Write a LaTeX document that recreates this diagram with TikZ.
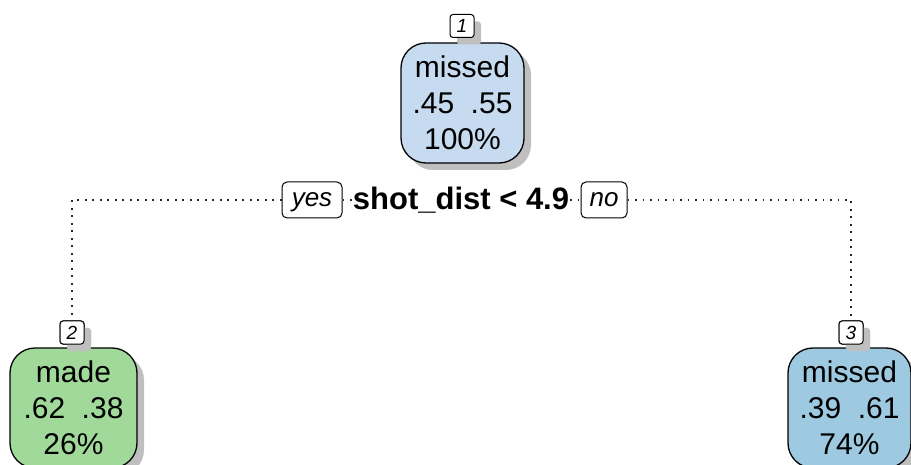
\documentclass[tikz,border=0pt]{standalone}
\usepackage{fontspec}
\setmainfont{Liberation Sans}
\usetikzlibrary{shadows}
\definecolor{c1}{HTML}{C6DBEF}
\definecolor{c2}{HTML}{A1D99B}
\definecolor{c3}{HTML}{9ECAE1}
\tikzset{
  shad/.style={drop shadow={shadow xshift=7pt,shadow yshift=-7pt,fill=black!25,opacity=1}},
  leaf/.style={draw=black,line width=1.3pt,rounded corners=25pt,shad,align=center,
    inner sep=0pt,font=\fontsize{30}{36}\selectfont},
  numbox/.style={draw=black,line width=1pt,rounded corners=3pt,fill=white,shad,
    inner sep=0pt,minimum width=24pt,minimum height=23pt,text height=13.5pt,text depth=0pt,
    font=\fontsize{19}{19}\selectfont\itshape},
  ynbox/.style={draw=black,line width=1pt,rounded corners=5pt,fill=white,
    inner sep=0pt,minimum height=36pt,text height=13.5pt,text depth=0pt,font=\fontsize{26}{26}\selectfont\itshape},
  dotline/.style={line width=1.6pt,dash pattern=on 1.6pt off 5.9pt,black!85}
}
\begin{document}
\begin{tikzpicture}[x=1pt,y=-1pt]
\useasboundingbox (0,0) rectangle (911,465);
% connectors first
\node[ynbox,minimum width=60pt] (yes) at (312,200) {yes};
\node[ynbox,minimum width=46pt] (no) at (604,200) {no};
\node[font=\fontsize{31}{31}\selectfont\bfseries,fill=white,inner sep=1pt] (split) at (461,200) {shot\_dist < 4.9};
\node[numbox] (lab2) at (72,332.5) {2};
\node[numbox] (lab3) at (851,332.5) {3};
\draw[dotline] (split.west) -- (yes.east);
\draw[dotline] (split.east) -- (no.west);
\draw[dotline] (yes.west) -| (lab2.north);
\draw[dotline] (no.east) -| (lab3.north);
% nodes
\node[leaf,fill=c1,minimum width=123pt,minimum height=120pt] (n1) at (462.5,103) {missed\\.45\hspace{0.55em}.55\\100\%};
\node[numbox] (lab1) at (462,26) {1};
\node[leaf,fill=c2,minimum width=127pt,minimum height=120pt] (n2) at (73.5,408) {made\\.62\hspace{0.55em}.38\\26\%};
\node[leaf,fill=c3,minimum width=123pt,minimum height=120pt] (n3) at (849.5,408) {missed\\.39\hspace{0.55em}.61\\74\%};
% redraw label boxes above leaves
\node[numbox] at (lab2) {2};
\node[numbox] at (lab3) {3};
\end{tikzpicture}
\end{document}
